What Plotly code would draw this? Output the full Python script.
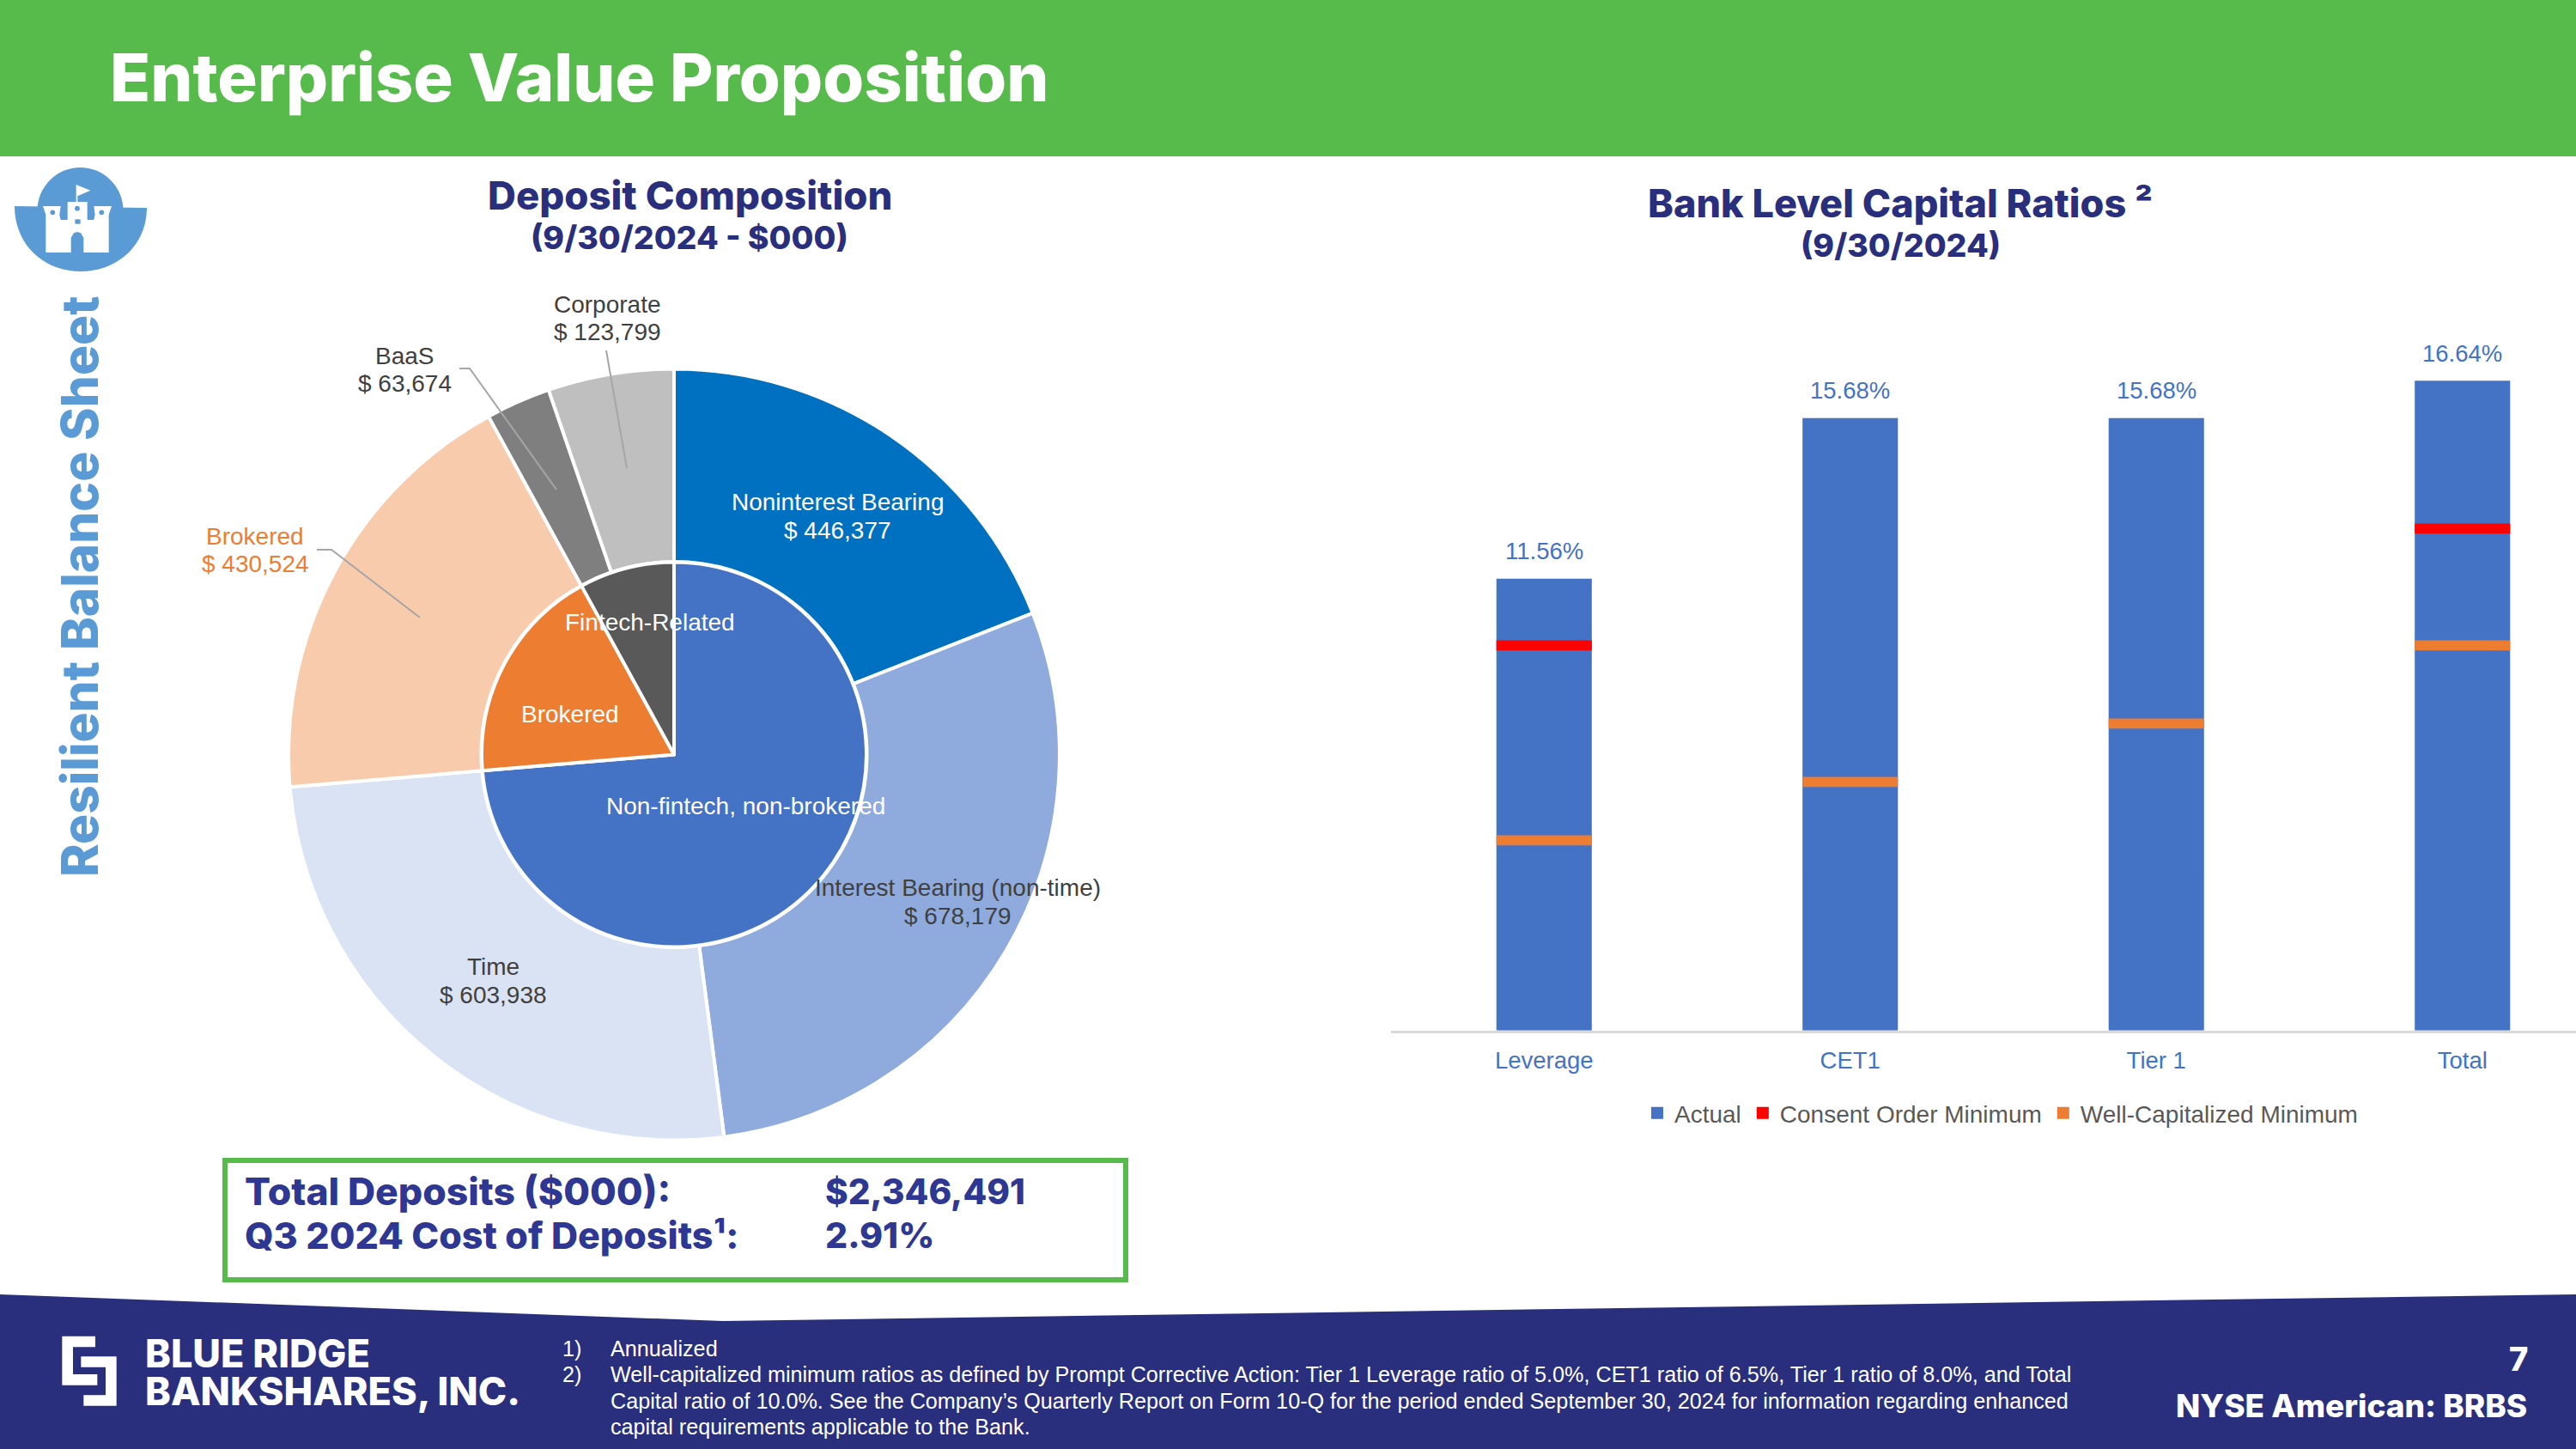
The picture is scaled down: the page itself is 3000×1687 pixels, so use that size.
import plotly.graph_objects as go

# deposit composition ($000)
outer_labels = ["Noninterest Bearing", "Interest Bearing (non-time)", "Time", "Brokered", "BaaS", "Corporate"]
outer_values = [446377, 678179, 603938, 430524, 63674, 123799]
outer_colors = ["#0070C0", "#8FAADC", "#DAE3F3", "#F8CBAD", "#7F7F7F", "#BFBFBF"]

inner_labels = ["Non-fintech, non-brokered", "Brokered", "Fintech-Related"]
inner_values = [1728494, 430524, 187473]
inner_colors = ["#4472C4", "#ED7D31", "#595959"]

# capital ratios (%)
ratio_names = ["Leverage", "CET1", "Tier 1", "Total"]
actual = [11.56, 15.68, 15.68, 16.64]
consent_min = [10.0, None, None, 13.0]
well_cap_min = [5.0, 6.5, 8.0, 10.0]

W = 3000
H = 1687
NAVY = "#2A2F7D"
BOX_NAVY = "#2E3791"
GREEN = "#57BB4B"
BLUE = "#4472C4"
ARIAL = "Liberation Sans"
HEAD = "Inter"


def px(x):
    return x / W


def py(y):
    return 1 - y / H


def poly(points):
    return "M" + " L".join(f"{px(x)},{py(y)}" for x, y in points) + " Z"


def poly_shape(points, color):
    return dict(type="path", xref="paper", yref="paper", path=poly(points),
                fillcolor=color, line_width=0, layer="above")


def circle_shape(cx, cy, r, color):
    return dict(type="circle", xref="paper", yref="paper", x0=px(cx - r), x1=px(cx + r),
                y0=py(cy + r), y1=py(cy - r), fillcolor=color, line_width=0, layer="above")


def txt(x, y, text, size, color, anchor="center", family=ARIAL, weight=None, angle=0):
    font = dict(family=family, size=size, color=color)
    if weight:
        font["weight"] = weight
    return dict(xref="paper", yref="paper", x=px(x), y=py(y), text=text, showarrow=False,
                xanchor=anchor, yanchor="middle", font=font, textangle=angle)


# pie geometry
cx, cy = 785, 878.5
R1, R2 = 449, 224
BAND = 0.215  # thickness of the minimum markers, in ratio points
BAND_DROP = 0.022
BAR_W = 0.306
BASE_Y = 1199.6
PER_POINT = 45.4

fig = go.Figure()

fig.add_trace(go.Pie(labels=outer_labels, values=outer_values, sort=False, direction="clockwise", rotation=0,
                     hole=0.5, textinfo="none", showlegend=False,
                     marker=dict(colors=outer_colors, line=dict(color="white", width=4)),
                     domain=dict(x=[px(cx - R1), px(cx + R1)], y=[py(cy + R1), py(cy - R1)])))
fig.add_trace(go.Pie(labels=inner_labels, values=inner_values, sort=False, direction="clockwise", rotation=0,
                     textinfo="none", showlegend=False,
                     marker=dict(colors=inner_colors, line=dict(color="white", width=4)),
                     domain=dict(x=[px(cx - R2), px(cx + R2)], y=[py(cy + R2), py(cy - R2)])))

fig.add_trace(go.Bar(name="Actual", x=ratio_names, y=actual, width=BAR_W,
                     marker=dict(color=BLUE, line=dict(color=BLUE, width=2))))
fig.add_trace(go.Bar(name="Consent Order Minimum", x=ratio_names,
                     y=[BAND if v is not None else None for v in consent_min],
                     base=[v - BAND - BAND_DROP if v is not None else None for v in consent_min],
                     width=BAR_W, marker=dict(color="#FF0000", line=dict(color="#FF0000", width=2))))
fig.add_trace(go.Bar(name="Well-Capitalized Minimum", x=ratio_names,
                     y=[BAND for v in well_cap_min],
                     base=[v - BAND - BAND_DROP for v in well_cap_min],
                     width=BAR_W, marker=dict(color="#ED7D31", line=dict(color="#ED7D31", width=2))))

shapes = [
    dict(type="rect", xref="paper", yref="paper", x0=0, x1=1, y0=py(182), y1=1, fillcolor=GREEN, line_width=0),
    poly_shape([(0, 1507), (842, 1538), (3000, 1507), (3000, 1687), (0, 1687)], NAVY),
    dict(type="rect", xref="paper", yref="paper", x0=px(262), x1=px(1311), y0=py(1490), y1=py(1351),
         line=dict(color=GREEN, width=6), fillcolor="rgba(0,0,0,0)"),
]

# leader lines
for pts in [[(535, 429), (547, 429), (648, 570)], [(706, 408), (730, 545)], [(369, 640), (386, 640), (489, 719)]]:
    shapes.append(dict(type="path", xref="paper", yref="paper", layer="above",
                       path="M" + " L".join(f"{px(x)},{py(y)}" for x, y in pts),
                       line=dict(color="#A6A6A6", width=2)))

# castle badge
CASTLE = "#5B9BD5"
shapes.append(circle_shape(93.5, 245, 50, CASTLE))
shapes.append(dict(type="path", xref="paper", yref="paper", layer="above", fillcolor=CASTLE, line_width=0,
                   path=f"M{px(17)},{py(240)} L{px(171)},{py(242)} "
                        f"C{px(171)},{py(285)} {px(137)},{py(316)} {px(94)},{py(316)} "
                        f"C{px(51)},{py(316)} {px(17)},{py(285)} {px(17)},{py(240)} Z"))
sx = lambda v: v / 3
sy = lambda v: 170 + v / 3
castle_pts = [(150, 210), (212, 210), (208, 240), (212, 258), (236, 258), (236, 195), (305, 195), (305, 258),
              (328, 258), (332, 240), (328, 210), (390, 210), (380, 240), (380, 372), (160, 372), (160, 240)]
shapes.append(poly_shape([(sx(a), sy(b)) for a, b in castle_pts], "white"))
shapes.append(poly_shape([(sx(a), sy(b)) for a, b in [(266, 135), (316, 155), (271, 175), (271, 195), (266, 195)]], "white"))
shapes.append(poly_shape([(sx(a), sy(b)) for a, b in [(248, 372), (248, 320), (258, 304), (270, 300), (282, 304),
                                                      (292, 320), (292, 372)]], CASTLE))
shapes.append(poly_shape([(sx(a), sy(b)) for a, b in [(262, 256), (281, 256), (281, 272), (262, 272)]], CASTLE))
for a, b in [(184, 232), (270, 218), (355, 232)]:
    shapes.append(circle_shape(sx(a), sy(b), 2.9, CASTLE))

# bank logo
lx = lambda v: 50 + v / 3
ly = lambda v: 1540 + v / 3
shapes.append(poly_shape([(lx(a), ly(b)) for a, b in [(67, 47), (183, 47), (183, 85), (105, 85), (105, 180), (190, 180),
                                                      (190, 218), (67, 218)]], "white"))
shapes.append(poly_shape([(lx(a), ly(b)) for a, b in [(133, 118), (257, 118), (257, 290), (142, 290), (142, 253),
                                                      (219, 253), (219, 155), (133, 155)]], "white"))

annotations = [
    txt(126, 90, "Enterprise Value Proposition", 77.5, "white", "left", HEAD, 800),
    txt(92, 683, "Resilient Balance Sheet", 58.5, CASTLE, "center", HEAD, 800, -90),
    txt(803, 228, "Deposit Composition", 45.5, NAVY, "center", HEAD, 800),
    txt(803, 277, "(9/30/2024 - $000)", 37.5, NAVY, "center", HEAD, 800),
    txt(2213, 237, "Bank Level Capital Ratios \u00b2", 45, NAVY, "center", HEAD, 800),
    txt(2213, 285, "(9/30/2024)", 37.5, NAVY, "center", HEAD, 800),
    txt(283, 1387, "Total Deposits ($000):", 44.5, BOX_NAVY, "left", HEAD, 800),
    txt(959, 1387, "$2,346,491", 40.5, BOX_NAVY, "left", HEAD, 800),
    txt(283, 1438, "Q3 2024 Cost of Deposits\u00b9:", 43, BOX_NAVY, "left", HEAD, 800),
    txt(959, 1438, "2.91%", 41, BOX_NAVY, "left", HEAD, 800),
    txt(167, 1575, "BLUE RIDGE", 45, "white", "left", HEAD, 800),
    txt(167, 1619, "BANKSHARES, INC.", 45, "white", "left", HEAD, 800),
    txt(2946, 1582, "7", 38, "white", "right", HEAD, 800),
    txt(2945, 1636, "NYSE American: BRBS", 37, "white", "right", HEAD, 800),
    txt(653, 1570, "1)", 25.2, "white", "left"),
    txt(709, 1570, "Annualized", 25.2, "white", "left"),
    txt(653, 1600, "2)", 25.2, "white", "left"),
    txt(709, 1600, "Well-capitalized minimum ratios as defined by Prompt Corrective Action: Tier 1 Leverage ratio of 5.0%, "
                   "CET1 ratio of 6.5%, Tier 1 ratio of 8.0%, and Total", 25.2, "white", "left"),
    txt(709, 1631, "Capital ratio of 10.0%. See the Company\u2019s Quarterly Report on Form 10-Q for the period ended "
                   "September 30, 2024 for information regarding enhanced", 25.2, "white", "left"),
    txt(709, 1661, "capital requirements applicable to the Bank.", 25.2, "white", "left"),
]

# pie labels, centre of the name line
outer_pos = [(976, 584), (1115, 1033), (574, 1125), (297, 624), (471, 414), (707, 354)]
outer_text = ["white", "#404040", "#404040", "#ED7D31", "#404040", "#404040"]
for name, val, (x, y), col in zip(outer_labels, outer_values, outer_pos, outer_text):
    annotations.append(txt(x, y, name, 28, col))
    annotations.append(txt(x, y + 33, f"$ {val:,}", 28, col))
inner_pos = [(868, 938), (664, 831), (757, 724)]
for name, (x, y) in zip(inner_labels, inner_pos):
    annotations.append(txt(x, y, name, 28, "white"))

# bar value labels sit on the axes
for name, val in zip(ratio_names, actual):
    annotations.append(dict(xref="x", yref="y", x=name, y=val, text=f"{val:.2f}%", showarrow=False, yshift=33,
                            xanchor="center", yanchor="middle", font=dict(family=ARIAL, size=27.5, color=BLUE)))

fig.update_layout(
    width=W, height=H, margin=dict(l=0, r=0, t=0, b=0), paper_bgcolor="white", plot_bgcolor="rgba(0,0,0,0)",
    barmode="overlay", shapes=shapes, annotations=annotations,
    xaxis=dict(domain=[1620 / W, 1], range=[-0.5, 3.371], type="category", showgrid=False, ticks="", showline=True,
               linecolor="#D9D9D9", linewidth=3, ticklabelstandoff=8,
               tickfont=dict(family=ARIAL, size=27.5, color=BLUE)),
    yaxis=dict(domain=[py(BASE_Y), py(BASE_Y - 20 * PER_POINT)], range=[0, 20], visible=False),
    legend=dict(orientation="h", x=1910 / W, xanchor="left", y=py(1296), yanchor="middle",
                font=dict(family=ARIAL, size=28, color="#595959"), bgcolor="rgba(0,0,0,0)"),
)

fig.write_html("out.html", config={"displayModeBar": False}, post_script="document.body.style.margin='0';")
